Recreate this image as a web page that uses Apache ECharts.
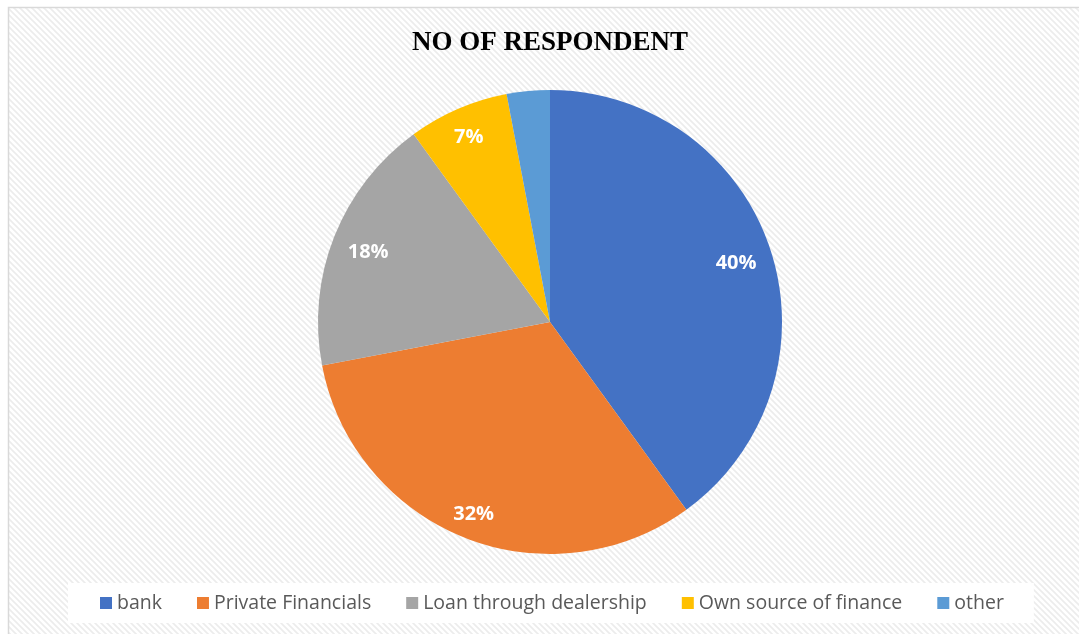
<!DOCTYPE html>
<html>
<head>
<meta charset="utf-8">
<script src="https://cdn.jsdelivr.net/npm/echarts@6/dist/echarts.min.js"></script>
<style>
  html, body { margin: 0; padding: 0; background: #ffffff; }
  #chart { width: 1079px; height: 634px; }
</style>
</head>
<body>
<div id="chart"></div>
<script>
const titleText = 'NO OF RESPONDENT';
const categories = ['bank', 'Private Financials', 'Loan through dealership', 'Own source of finance', 'other'];
const values = [40, 32, 18, 7, 3];
const colors = ['#4472C4', '#ED7D31', '#A5A5A5', '#FFC000', '#5B9BD5'];
const showLabel = [true, true, true, true, false];

// hatch pattern for chart background
const tile = document.createElement('canvas');
tile.width = 6; tile.height = 6;
const tc = tile.getContext('2d');
tc.fillStyle = '#ffffff';
tc.fillRect(0, 0, 6, 6);
tc.strokeStyle = '#ececec';
tc.lineWidth = 1.6;
tc.beginPath();
tc.moveTo(-1, -1); tc.lineTo(7, 7);
tc.moveTo(-4, 2); tc.lineTo(4, 10);
tc.moveTo(2, -4); tc.lineTo(10, 4);
tc.stroke();

const chart = echarts.init(document.getElementById('chart'), null, { renderer: 'canvas' });

const labelOffsets = [[-6, 4], [-2, 4], [6, 5], [-1, 1], [0, 0]];
const pieData = categories.map((n, i) => ({ name: n, value: values[i], itemStyle: { color: colors[i] } }));
const labelData = categories.map((n, i) => ({
  name: n, value: values[i],
  itemStyle: { color: 'rgba(0,0,0,0)' },
  label: { show: showLabel[i], offset: labelOffsets[i] }
}));

chart.setOption({
  animation: false,
  backgroundColor: '#ffffff',
  graphic: [
    {
      type: 'rect', z: -10, silent: true,
      shape: { x: 8.5, y: 7.5, width: 1100, height: 700 },
      style: { fill: { image: tile, repeat: 'repeat' }, stroke: '#d9d9d9', lineWidth: 1.5 }
    },
    {
      type: 'text', z: 10, silent: true,
      x: 550, y: 30,
      style: {
        text: titleText, textAlign: 'center', textVerticalAlign: 'top',
        font: 'bold 27px "Liberation Serif", "Times New Roman", serif',
        fill: '#000000'
      }
    }
  ],
  legend: {
    data: categories,
    top: 583,
    left: 68,
    padding: [10, 30, 10, 32],
    backgroundColor: '#ffffff',
    icon: 'rect',
    itemWidth: 12,
    itemHeight: 12,
    itemGap: 35,
    textStyle: { fontSize: 19.5, color: '#595959', fontFamily: '"Open Sans", sans-serif' }
  },
  series: [
    {
      type: 'pie',
      center: [550, 322],
      radius: [0, 232],
      startAngle: 90,
      clockwise: true,
      label: { show: false },
      labelLine: { show: false },
      emphasis: { disabled: true },
      data: pieData
    },
    {
      type: 'pie',
      silent: true,
      center: [550, 322],
      radius: [166, 232],
      startAngle: 90,
      clockwise: true,
      labelLine: { show: false },
      label: {
        position: 'inside',
        formatter: '{c}%',
        color: '#ffffff',
        fontSize: 20,
        fontWeight: 'bold',
        fontFamily: '"Open Sans", sans-serif'
      },
      emphasis: { disabled: true },
      data: labelData
    }
  ]
});
</script>
</body>
</html>
